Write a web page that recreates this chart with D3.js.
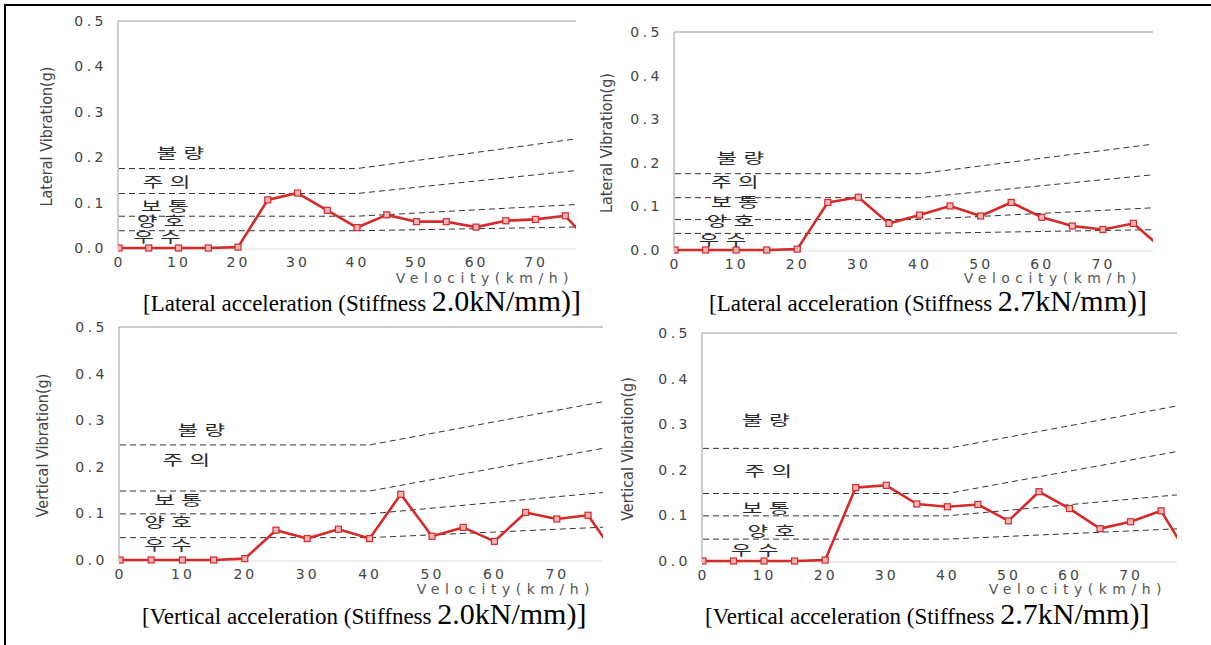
<!DOCTYPE html>
<html>
<head>
<meta charset="utf-8">
<script src="https://cdn.jsdelivr.net/npm/d3@7"></script>
<style>
  body { margin: 0; background: #fff; }
</style>
</head>
<body>
<svg id="chart" width="1211" height="645"></svg>
<script>
// measured values (g) at each speed step
var velocity = [0, 5, 10, 15, 20, 25, 30, 35, 40, 45, 50, 55, 60, 65, 70, 75, 80];
var lateral20 = [0, 0, 0, 0, 0.002, 0.106, 0.121, 0.083, 0.045, 0.073, 0.058, 0.058, 0.046, 0.060, 0.063, 0.071, 0];
var lateral27 = [0, 0, 0, 0, 0.002, 0.109, 0.121, 0.061, 0.080, 0.101, 0.078, 0.109, 0.075, 0.055, 0.047, 0.061, 0];
var vertical20 = [0, 0, 0, 0, 0.003, 0.064, 0.046, 0.066, 0.046, 0.141, 0.051, 0.070, 0.040, 0.102, 0.088, 0.096, 0];
var vertical27 = [0, 0, 0, 0, 0.002, 0.161, 0.166, 0.125, 0.119, 0.124, 0.088, 0.152, 0.115, 0.071, 0.086, 0.110, 0];

// ride quality limit lines (flat to 40 km/h then rising)
var limitSpeeds = [0, 40, 80];
var lateralLimits = [
  [0.175, 0.175, 0.246],
  [0.120, 0.120, 0.175],
  [0.070, 0.070, 0.098],
  [0.038, 0.038, 0.047]
];
var verticalLimits = [
  [0.247, 0.247, 0.346],
  [0.148, 0.148, 0.246],
  [0.099, 0.099, 0.148],
  [0.048, 0.048, 0.072]
];
var gradeNames = ["불량", "주의", "보통", "양호", "우수"];

var yTicks = [0, 0.1, 0.2, 0.3, 0.4, 0.5];
var xTicks = [0, 10, 20, 30, 40, 50, 60, 70];

// where each grade name sits, in (km/h, g)
var gradeSpotsLat20 = [[6.3, 0.209], [4.0, 0.145], [3.7, 0.094], [3.0, 0.060], [2.4, 0.024]];
var gradeSpotsLat27 = [[6.8, 0.211], [5.9, 0.156], [5.9, 0.111], [5.2, 0.067], [3.9, 0.023]];
var gradeSpotsVer20 = [[9.2, 0.279], [6.8, 0.215], [5.5, 0.129], [3.9, 0.082], [3.9, 0.032]];
var gradeSpotsVer27 = [[6.4, 0.309], [6.8, 0.198], [6.4, 0.116], [7.3, 0.066], [4.6, 0.024]];

var panels = [
  { series: lateral20, limits: lateralLimits, spots: gradeSpotsLat20,
    yTitle: "Lateral Vibration(g)", caption: "[Lateral acceleration (Stiffness ", captionBig: "2.0kN/mm)]",
    left: 118, right: 576, top: 21, bottom: 248, vmax: 76.8,
    titleX: 46, velEnd: 574, velY: 283, capX: 143, capY: 311 },
  { series: lateral27, limits: lateralLimits, spots: gradeSpotsLat27,
    yTitle: "Lateral Vibration(g)", caption: "[Lateral acceleration (Stiffness ", captionBig: "2.7kN/mm)]",
    left: 674, right: 1153, top: 32, bottom: 250, vmax: 78.2,
    titleX: 606, velEnd: 1142, velY: 283, capX: 709, capY: 311 },
  { series: vertical20, limits: verticalLimits, spots: gradeSpotsVer20,
    yTitle: "Vertical Vibration(g)", caption: "[Vertical acceleration (Stiffness ", captionBig: "2.0kN/mm)]",
    left: 119, right: 603, top: 327, bottom: 560, vmax: 77.4,
    titleX: 42, velEnd: 595, velY: 594, capX: 142, capY: 624 },
  { series: vertical27, limits: verticalLimits, spots: gradeSpotsVer27,
    yTitle: "Vertical Vibration(g)", caption: "[Vertical acceleration (Stiffness ", captionBig: "2.7kN/mm)]",
    left: 702, right: 1177, top: 333, bottom: 561, vmax: 77.6,
    titleX: 627, velEnd: 1167, velY: 594, capX: 705, capY: 624 }
];

var red = "#d42a2a";
var svg = d3.select("#chart");

// outer frame (top and left edge)
svg.append("path")
    .attr("d", "M5,645V5H1211")
    .attr("fill", "none")
    .attr("stroke", "#000")
    .attr("stroke-width", 2);

panels.forEach(function(p, i) {
  var x = d3.scaleLinear().domain([0, p.vmax]).range([p.left + 1, p.right]);
  var y = d3.scaleLinear().domain([0, 0.5]).range([p.bottom, p.top]);
  var g = svg.append("g");

  svg.append("clipPath").attr("id", "clip" + i)
    .append("rect")
      .attr("x", p.left)
      .attr("y", p.top - 5)
      .attr("width", p.right - p.left)
      .attr("height", p.bottom - p.top + 10);

  // plot frame
  g.append("line")
      .attr("x1", p.left).attr("x2", p.right)
      .attr("y1", y(0.5)).attr("y2", y(0.5))
      .attr("stroke", "#999");
  g.append("line")
      .attr("x1", p.left).attr("x2", p.left)
      .attr("y1", y(0.5)).attr("y2", y(0) + 1)
      .attr("stroke", "#999");
  g.append("line")
      .attr("x1", p.left).attr("x2", p.right)
      .attr("y1", y(0) + 1).attr("y2", y(0) + 1)
      .attr("stroke", "#ddd");

  // axes
  var yAxis = d3.axisLeft(y).tickValues(yTicks).tickSize(0).tickPadding(11)
      .tickFormat(d3.format(".1f"));
  g.append("g")
      .attr("transform", "translate(" + p.left + ",0)")
      .call(yAxis)
      .call(function(s) {
        s.select(".domain").remove();
        s.selectAll("text")
          .attr("font-family", "DejaVu Sans, sans-serif")
          .attr("font-size", 14)
          .attr("letter-spacing", 3.5)
          .attr("fill", "#444");
      });

  var xAxis = d3.axisBottom(x).tickValues(xTicks).tickSize(0).tickPadding(9)
      .tickFormat(d3.format("d"));
  g.append("g")
      .attr("transform", "translate(0," + p.bottom + ")")
      .call(xAxis)
      .call(function(s) {
        s.select(".domain").remove();
        s.selectAll("text")
          .attr("font-family", "DejaVu Sans, sans-serif")
          .attr("font-size", 14)
          .attr("letter-spacing", 3)
          .attr("fill", "#444");
      });

  var plot = g.append("g").attr("clip-path", "url(#clip" + i + ")");

  // limit lines
  var limitLine = d3.line()
      .x(function(d, j) { return x(limitSpeeds[j]); })
      .y(function(d) { return y(d); });
  p.limits.forEach(function(l) {
    plot.append("path")
        .attr("d", limitLine(l))
        .attr("fill", "none")
        .attr("stroke", "#333")
        .attr("stroke-width", 1)
        .attr("stroke-dasharray", "6,4");
  });

  // measured series
  var line = d3.line()
      .x(function(d, j) { return x(velocity[j]); })
      .y(function(d) { return y(d); });
  plot.append("path")
      .attr("d", line(p.series))
      .attr("fill", "none")
      .attr("stroke", red)
      .attr("stroke-width", 2.6)
      .attr("stroke-linejoin", "round");
  plot.selectAll("rect.mark")
      .data(p.series)
    .enter().append("rect")
      .attr("class", "mark")
      .attr("x", function(d, j) { return x(velocity[j]) - 3; })
      .attr("y", function(d) { return y(d) - 3; })
      .attr("width", 6)
      .attr("height", 6)
      .attr("fill", "#f2b4b4")
      .attr("stroke", red)
      .attr("stroke-width", 1.2);

  // grade names
  g.selectAll("text.grade")
      .data(p.spots)
    .enter().append("text")
      .attr("class", "grade")
      .attr("transform", function(d) { return "translate(" + x(d[0]) + "," + y(d[1]) + ") scale(1.6,1)"; })
      .attr("dy", "0.38em")
      .attr("font-family", "Noto Sans CJK KR, sans-serif")
      .attr("font-size", 14)
      .attr("letter-spacing", 4)
      .attr("fill", "#2a2a2a")
      .text(function(d, j) { return gradeNames[j]; });

  // y title
  g.append("text")
      .attr("transform", "translate(" + p.titleX + "," + ((p.top + p.bottom) / 2 + 2) + ") rotate(-90)")
      .attr("text-anchor", "middle")
      .attr("dy", "0.35em")
      .attr("font-family", "Liberation Sans Narrow, Arial Narrow, DejaVu Sans Condensed, sans-serif")
      .attr("font-size", 16)
      .attr("fill", "#444")
      .text(p.yTitle);

  // x title
  g.append("text")
      .attr("x", p.velEnd)
      .attr("y", p.velY)
      .attr("text-anchor", "end")
      .attr("font-family", "DejaVu Sans, sans-serif")
      .attr("font-size", 14)
      .attr("letter-spacing", 5.5)
      .attr("fill", "#555")
      .text("Velocity(km/h)");

  // caption
  var cap = g.append("text")
      .attr("x", p.capX)
      .attr("y", p.capY)
      .attr("font-family", "Liberation Serif, Times New Roman, serif")
      .attr("font-size", 23)
      .attr("fill", "#000");
  cap.append("tspan").text(p.caption);
  cap.append("tspan").attr("font-size", 30).text(p.captionBig);
});
</script>
</body>
</html>
